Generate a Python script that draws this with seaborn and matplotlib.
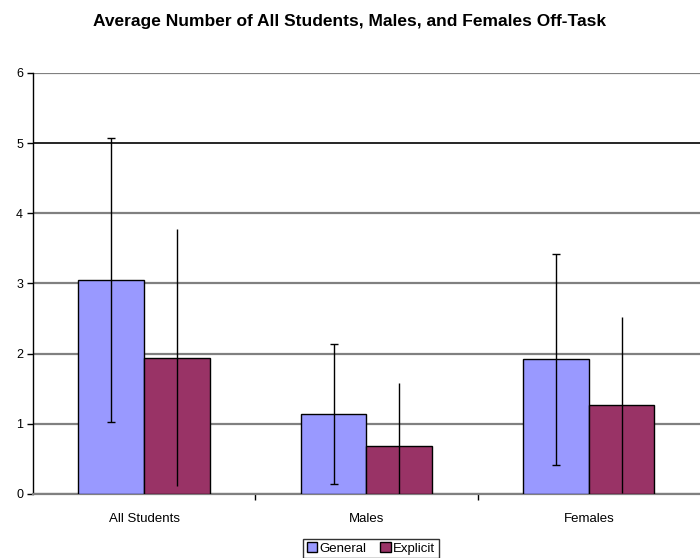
import matplotlib
matplotlib.use("Agg")
import matplotlib.pyplot as plt
import seaborn as sns
import pandas as pd
import numpy as np
from matplotlib.patches import Patch

categories = ["All Students", "Males", "Females"]
conditions = ["General", "Explicit"]
general_mean = [3.05, 1.14, 1.92]
explicit_mean = [1.94, 0.68, 1.27]
general_sd = [2.03, 1.00, 1.50]
explicit_sd = [1.83, 0.90, 1.25]
colors = ["#9999FF", "#993366"]

sns.set_style("white")
plt.rcParams['font.family'] = ['Liberation Sans', 'DejaVu Sans']
plt.rcParams['text.color'] = 'black'
plt.rcParams['xtick.color'] = 'black'
plt.rcParams['ytick.color'] = 'black'

df = pd.DataFrame({
    "group": categories * 2,
    "cond": ["General"] * 3 + ["Explicit"] * 3,
    "value": general_mean + explicit_mean,
})

fig = plt.figure(figsize=(7.0, 5.58), dpi=100)
ax = fig.add_axes([0.047, 0.1147, 0.953, 0.7545])

sns.barplot(data=df, x="group", y="value", hue="cond", order=categories,
            hue_order=conditions, palette=colors, edgecolor="black",
            linewidth=1, width=0.59, errorbar=None, ax=ax, saturation=1,
            legend=False, zorder=3)

sds = [general_sd, explicit_sd]
caps = [3, 0]
for cont, sd, cap in zip(ax.containers, sds, caps):
    xs = [p.get_x() + p.get_width() / 2 for p in cont.patches]
    hs = [p.get_height() for p in cont.patches]
    ax.errorbar(xs, hs, yerr=sd, fmt="none", ecolor="black", elinewidth=1,
                capsize=cap, capthick=1, zorder=4)

ax.set_xlim(-0.5, 2.5)
ax.set_ylim(0, 6)
ax.set_yticks(range(0, 7))
ax.yaxis.grid(True, color="#808080", linewidth=1.6, zorder=0)
ax.set_axisbelow(True)
ax.get_ygridlines()[5].set_color("black")
ax.get_ygridlines()[5].set_linewidth(1.2)
for sp in ["top", "right"]:
    ax.spines[sp].set_visible(False)
ax.spines["left"].set_color("black")
ax.spines["left"].set_linewidth(1)
ax.spines["bottom"].set_color("#808080")
ax.spines["bottom"].set_linewidth(1.6)

ax.tick_params(axis="y", direction="out", length=4, width=1, color="black",
               labelsize=9, pad=3, left=True)
ax.tick_params(axis="x", length=0, labelsize=9.5, pad=14)
ax.set_xticks([0.5, 1.5], minor=True)
ax.tick_params(axis="x", which="minor", length=4, width=1, color="black",
               direction="out", bottom=True)
ax.set_xlabel("")
ax.set_ylabel("")

fig.suptitle("Average Number of All Students, Males, and Females Off-Task",
             x=0.5, y=0.975, fontsize=12.5, fontweight="bold", color="black")

handles = [Patch(facecolor=c, edgecolor="black", linewidth=1, label=l)
           for c, l in zip(colors, conditions)]
leg = fig.legend(handles=handles, loc="lower center", bbox_to_anchor=(0.53, 0.0),
                 ncol=2, fontsize=9.5, frameon=True, fancybox=False,
                 edgecolor="black", handlelength=0.8, handleheight=0.8,
                 handletextpad=0.2, columnspacing=1.0, borderpad=0.25,
                 borderaxespad=0.0)
leg.get_frame().set_linewidth(1)

fig.savefig("out.png", dpi=100)
